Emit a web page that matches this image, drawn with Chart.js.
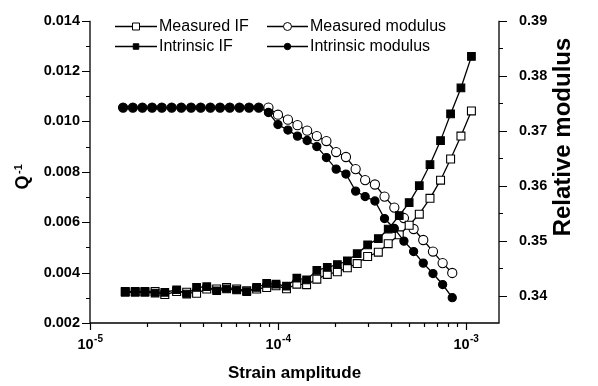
<!DOCTYPE html>
<html><head><meta charset="utf-8">
<script src="https://cdn.jsdelivr.net/npm/chart.js@4.4.1/dist/chart.umd.min.js"></script>
<style>html,body{margin:0;padding:0;background:#fff;overflow:hidden}canvas{display:block}</style>
</head><body>
<canvas id="c" width="598" height="386"></canvas>
<script>
// ---- data ----
const strainIF = [1.54e-5,1.74e-5,1.96e-5,2.22e-5,2.50e-5,2.89e-5,3.27e-5,3.69e-5,4.18e-5,4.72e-5,
  5.33e-5,6.03e-5,6.82e-5,7.70e-5,8.71e-5,9.76e-5,1.11e-4,1.26e-4,1.42e-4,1.61e-4,
  1.83e-4,2.07e-4,2.34e-4,2.64e-4,3.00e-4,3.42e-4,3.86e-4,4.42e-4,4.99e-4,5.65e-4,
  6.44e-4,7.33e-4,8.29e-4,9.41e-4,1.07e-3];
const measuredIF = [0.00325,0.00325,0.00325,0.00325,0.00313,0.00325,0.00322,0.00318,0.00335,0.00335,
  0.00341,0.00335,0.00328,0.00335,0.00341,0.00348,0.00336,0.00354,0.00352,0.00374,
  0.00393,0.00403,0.00419,0.00436,0.00464,0.00481,0.00515,0.00550,0.00588,0.00632,
  0.00695,0.00767,0.00851,0.00942,0.01042];
const intrinsicIF = [0.00322,0.00322,0.00322,0.00319,0.00322,0.00332,0.00315,0.00341,0.00344,0.00328,
  0.00335,0.00331,0.00325,0.00341,0.00357,0.00354,0.00346,0.00378,0.00371,0.00409,
  0.00421,0.00432,0.00447,0.00475,0.00510,0.00535,0.00573,0.00626,0.00678,0.00745,
  0.00829,0.00924,0.01030,0.01133,0.01258];
const strainModulus = [1.50e-5,1.69e-5,1.90e-5,2.14e-5,2.41e-5,2.72e-5,3.06e-5,3.45e-5,3.88e-5,4.37e-5,
  4.92e-5,5.54e-5,6.24e-5,7.02e-5,7.90e-5,8.90e-5,1.00e-4,1.13e-4,1.27e-4,1.43e-4,
  1.61e-4,1.81e-4,2.04e-4,2.30e-4,2.59e-4,2.91e-4,3.28e-4,3.69e-4,4.16e-4,4.68e-4,
  5.27e-4,5.93e-4,6.68e-4,7.52e-4,8.46e-4];
const measuredModulus = [0.3742,0.3742,0.3742,0.3742,0.3742,0.3742,0.3742,0.3742,0.3742,0.3742,
  0.3742,0.3742,0.3742,0.3742,0.3742,0.3742,0.3729,0.3720,0.3710,0.3700,
  0.3690,0.3681,0.3661,0.3652,0.3630,0.3610,0.3602,0.3580,0.3560,0.3541,
  0.3521,0.3501,0.3480,0.3459,0.3441];
const intrinsicModulus = [0.3742,0.3742,0.3742,0.3742,0.3742,0.3742,0.3742,0.3742,0.3742,0.3742,
  0.3742,0.3742,0.3742,0.3742,0.3742,0.3733,0.3711,0.3701,0.3690,0.3682,
  0.3671,0.3651,0.3630,0.3621,0.3590,0.3580,0.3572,0.3540,0.3522,0.3499,
  0.3480,0.3459,0.3440,0.3420,0.3396];
const qTicks = [0.002,0.004,0.006,0.008,0.010,0.012,0.014];
const qMinorTicks = [0.003,0.005,0.007,0.009,0.011,0.013];
const modulusTicks = [0.34,0.35,0.36,0.37,0.38,0.39];
const modulusMinorTicks = [0.345,0.355,0.365,0.375,0.385];
const strainTicks = [1e-5,1e-4,1e-3];
const strainTickExponents = ['-5','-4','-3'];
const seriesNames = ['Measured IF','Intrinsic IF','Measured modulus','Intrinsic modulus'];
const xTitle = 'Strain amplitude';
const yTitle = 'Q', yTitleSup = '-1';
const y2Title = 'Relative modulus';

const FONT = '"Liberation Sans", Arial, Helvetica, sans-serif';
const pts = (xs, ys) => xs.map((x, i) => ({x, y: ys[i]}));

const axisPlugin = {
  id: 'axisPlugin',
  afterDraw(chart) {
    const ctx = chart.ctx, a = chart.chartArea;
    const xs = chart.scales.x, ys = chart.scales.y, y2 = chart.scales.y2;
    ctx.save();
    ctx.strokeStyle = '#000';
    ctx.fillStyle = '#000';
    ctx.lineWidth = 1.3;
    // axis lines
    ctx.beginPath();
    ctx.moveTo(a.left, a.top); ctx.lineTo(a.left, a.bottom);
    ctx.lineTo(a.right, a.bottom); ctx.lineTo(a.right, a.top);
    ctx.stroke();
    ctx.lineWidth = 1.2;
    ctx.beginPath();
    qTicks.forEach(v => { const p = Math.round(ys.getPixelForValue(v)) + 0.5; ctx.moveTo(a.left - 8, p); ctx.lineTo(a.left, p); });
    qMinorTicks.forEach(v => { const p = Math.round(ys.getPixelForValue(v)) + 0.5; ctx.moveTo(a.left - 4, p); ctx.lineTo(a.left, p); });
    modulusTicks.forEach(v => { const p = Math.round(y2.getPixelForValue(v)) + 0.5; ctx.moveTo(a.right, p); ctx.lineTo(a.right + 8, p); });
    modulusMinorTicks.forEach(v => { const p = Math.round(y2.getPixelForValue(v)) + 0.5; ctx.moveTo(a.right, p); ctx.lineTo(a.right + 4, p); });
    strainTicks.forEach(v => { const p = Math.round(xs.getPixelForValue(v)) + 0.5; ctx.moveTo(p, a.bottom); ctx.lineTo(p, a.bottom + 7); });
    strainTicks.forEach(d => {
      for (let k = 2; k <= 9; k++) {
        const v = d * k;
        if (v >= xs.max) continue;
        const p = Math.round(xs.getPixelForValue(v)) + 0.5;
        ctx.moveTo(p, a.bottom); ctx.lineTo(p, a.bottom + 4);
      }
    });
    ctx.stroke();
    // x tick labels with superscript exponents
    strainTicks.forEach((v, i) => {
      const p = xs.getPixelForValue(v);
      ctx.font = 'bold 14.5px ' + FONT;
      const wBase = ctx.measureText('10').width;
      ctx.font = 'bold 10px ' + FONT;
      const wSup = ctx.measureText(strainTickExponents[i]).width;
      const start = p - (wBase + wSup) / 2;
      ctx.textAlign = 'left'; ctx.textBaseline = 'alphabetic';
      ctx.font = 'bold 14.5px ' + FONT;
      ctx.fillText('10', start, 349);
      ctx.font = 'bold 10px ' + FONT;
      ctx.fillText(strainTickExponents[i], start + wBase + 0.5, 342);
    });
    // x title
    ctx.font = 'bold 17px ' + FONT;
    ctx.textAlign = 'center';
    ctx.fillText(xTitle, (a.left + a.right) / 2, 378);
    // left title Q^-1
    ctx.save();
    ctx.translate(28, 176);
    ctx.rotate(-Math.PI / 2);
    ctx.textAlign = 'left';
    ctx.font = 'bold 18px ' + FONT;
    const wQ = ctx.measureText(yTitle).width;
    ctx.fillText(yTitle, -wQ + 0.5, 0);
    ctx.font = 'bold 11px ' + FONT;
    ctx.fillText(yTitleSup, 2, -6);
    ctx.restore();
    // right title
    ctx.save();
    ctx.translate(570, 137);
    ctx.rotate(-Math.PI / 2);
    ctx.textAlign = 'center';
    ctx.font = 'bold 24px ' + FONT;
    ctx.fillText(y2Title, 0, 0);
    ctx.restore();
    // legend
    const cols = [{x1: 115, x2: 157, tx: 159}, {x1: 267, x2: 308, tx: 310}];
    const rows = [26.5, 46.5];
    const items = [
      {c: 0, r: 0, shape: 'sq', fill: false},
      {c: 0, r: 1, shape: 'sq', fill: true},
      {c: 1, r: 0, shape: 'ci', fill: false},
      {c: 1, r: 1, shape: 'ci', fill: true}
    ];
    items.forEach((it, i) => {
      const col = cols[it.c], y = rows[it.r];
      const mx = (col.x1 + col.x2) / 2;
      ctx.lineWidth = 1.3;
      ctx.strokeStyle = '#000';
      ctx.beginPath(); ctx.moveTo(col.x1, y); ctx.lineTo(col.x2, y); ctx.stroke();
      ctx.beginPath();
      if (it.shape === 'sq') {
        const s = it.fill ? 5.5 : 7;
        ctx.rect(mx - s / 2, y - s / 2, s, s);
      } else {
        ctx.arc(mx, y, it.fill ? 3.2 : 4, 0, Math.PI * 2);
      }
      ctx.fillStyle = it.fill ? '#000' : '#fff';
      ctx.fill();
      ctx.lineWidth = 1;
      ctx.stroke();
      ctx.fillStyle = '#000';
      ctx.font = '16px ' + FONT;
      ctx.textAlign = 'left'; ctx.textBaseline = 'middle';
      ctx.fillText(seriesNames[i], col.tx, y);
    });
    ctx.restore();
  }
};

const common = {
  borderColor: '#000', borderWidth: 1.3, tension: 0, pointBorderColor: '#000',
  pointBorderWidth: 1.1, pointHoverRadius: 0
};

new Chart(document.getElementById('c'), {
  type: 'line',
  data: {
    datasets: [
      Object.assign({}, common, {label: seriesNames[1], data: pts(strainIF, intrinsicIF), yAxisID: 'y',
        pointStyle: 'rect', pointRadius: 5.4, pointBackgroundColor: '#000', order: 1}),
      Object.assign({}, common, {label: seriesNames[0], data: pts(strainIF, measuredIF), yAxisID: 'y',
        pointStyle: 'rect', pointRadius: 5.6, pointBackgroundColor: '#fff', order: 3}),
      Object.assign({}, common, {label: seriesNames[3], data: pts(strainModulus, intrinsicModulus), yAxisID: 'y2',
        pointStyle: 'circle', pointRadius: 4.1, pointBackgroundColor: '#000', order: 2}),
      Object.assign({}, common, {label: seriesNames[2], data: pts(strainModulus, measuredModulus), yAxisID: 'y2',
        pointStyle: 'circle', pointRadius: 4.6, pointBackgroundColor: '#fff', order: 4})
    ]
  },
  options: {
    responsive: false, animation: false, devicePixelRatio: 1,
    layout: {padding: {top: 14, left: 0, right: 0, bottom: 0}},
    plugins: {legend: {display: false}, tooltip: {enabled: false}},
    events: [],
    scales: {
      x: {
        type: 'logarithmic', min: 1e-5, max: 1.5e-3,
        grid: {display: false}, border: {display: false},
        ticks: {display: false},
        afterBuildTicks: s => { s.ticks = strainTicks.map(v => ({value: v})); },
        afterFit: s => { s.height = 63; }
      },
      y: {
        type: 'linear', position: 'left', min: 0.002, max: 0.014,
        grid: {display: false, drawTicks: true, tickLength: 8}, border: {display: false},
        afterBuildTicks: s => { s.ticks = qTicks.map(v => ({value: v})); },
        ticks: {color: '#000', padding: 2, font: {family: FONT, size: 14.5, weight: 'bold'},
          callback: v => Number(v).toFixed(3)},
        afterFit: s => { s.width = 90; }
      },
      y2: {
        type: 'linear', position: 'right', min: 0.335, max: 0.39,
        grid: {display: false, drawTicks: true, tickLength: 8}, border: {display: false},
        afterBuildTicks: s => { s.ticks = modulusTicks.map(v => ({value: v})); },
        ticks: {color: '#000', padding: 12, font: {family: FONT, size: 14.5, weight: 'bold'},
          callback: v => Number(v).toFixed(2)},
        afterFit: s => { s.width = 99; }
      }
    }
  },
  plugins: [axisPlugin]
});
</script>
</body></html>
